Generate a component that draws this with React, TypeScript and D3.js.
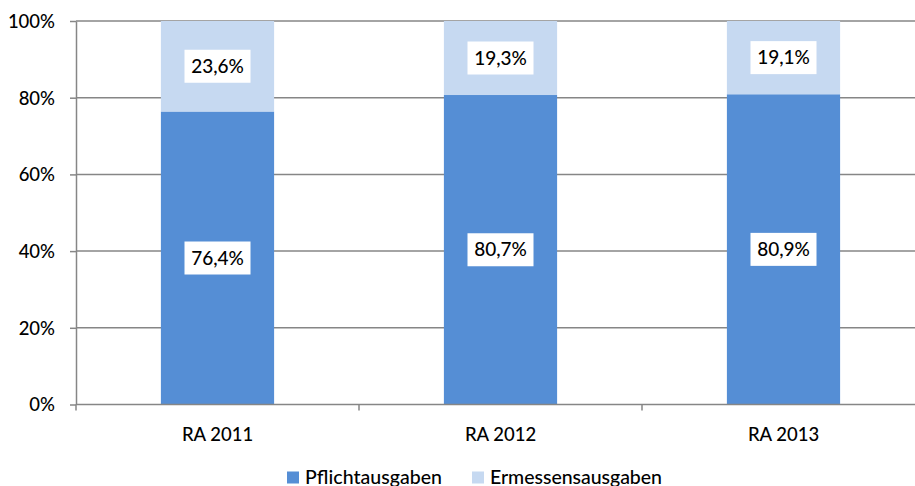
import React, { useEffect, useRef } from "react";
import * as d3 from "d3";

// data
const categories = ["RA 2011", "RA 2012", "RA 2013"];
const pflicht = [76.4, 80.7, 80.9];
const ermessen = [23.6, 19.3, 19.1];
const seriesNames = ["Pflichtausgaben", "Ermessensausgaben"];
const seriesColors = ["#558ED5", "#C6D9F1"];
const yTicks = [0, 20, 40, 60, 80, 100];

const W = 915;
const H = 486;
const FONT = "Lato, 'Open Sans', sans-serif";

export default function App() {
  const ref = useRef<SVGSVGElement>(null);

  useEffect(() => {
    const svg = d3.select(ref.current);
    svg.selectAll("*").remove();

    const left = 76, top = 21, bottom = 404.5, right = 925;

    const x = d3.scaleBand().domain(categories).range([left, right]).paddingInner(0).paddingOuter(0);
    const y = d3.scaleLinear().domain([0, 100]).range([bottom, top]);
    const barW = x.bandwidth() * 0.4;

    // gridlines
    svg.append("g").selectAll("line").data(yTicks.slice(1)).join("line")
      .attr("x1", left).attr("x2", W)
      .attr("y1", d => y(d)).attr("y2", d => y(d))
      .attr("stroke", "#868686").attr("stroke-width", 1.5);

    // bars
    const rows = categories.map((c, i) => ({ c, vals: [pflicht[i], ermessen[i]] }));
    rows.forEach(r => {
      let base = 0;
      r.vals.forEach((v, k) => {
        svg.append("rect")
          .attr("x", x(r.c)! + (x.bandwidth() - barW) / 2)
          .attr("width", barW)
          .attr("y", y(base + v))
          .attr("height", y(base) - y(base + v))
          .attr("fill", seriesColors[k]);
        const cy = y(base + v / 2);
        const cx = x(r.c)! + x.bandwidth() / 2;
        svg.append("rect")
          .attr("x", cx - 33).attr("y", cy - 16.5)
          .attr("width", 66).attr("height", 33)
          .attr("fill", "#fff");
        svg.append("text")
          .attr("x", cx).attr("y", cy + 6.5)
          .attr("text-anchor", "middle")
          .attr("font-family", FONT).attr("font-size", 19).attr("font-weight", 500)
          .attr("fill", "#000")
          .text(v.toFixed(1).replace(".", ",") + "%");
        base += v;
      });
    });

    // y axis
    const yAxis = svg.append("g").attr("transform", `translate(${left},0)`)
      .call(d3.axisLeft(y).tickValues(yTicks).tickSize(6).tickSizeOuter(0).tickFormat(d => `${d}%`));
    yAxis.select(".domain").attr("stroke", "#868686").attr("stroke-width", 1.5);
    yAxis.selectAll(".tick line").attr("stroke", "#868686").attr("stroke-width", 1.5);
    yAxis.selectAll(".tick text")
      .attr("x", -21).attr("dy", "0.35em")
      .attr("font-family", FONT).attr("font-size", 18.5).attr("font-weight", 500).attr("fill", "#000");

    // x axis
    const xAxis = svg.append("g").attr("transform", `translate(0,${bottom})`);
    xAxis.append("line").attr("x1", left).attr("x2", W).attr("y1", 0).attr("y2", 0)
      .attr("stroke", "#868686").attr("stroke-width", 1.5);
    const bounds = categories.map(c => x(c)!).concat([x(categories[categories.length - 1])! + x.bandwidth()]);
    xAxis.selectAll(".xt").data(bounds).join("line")
      .attr("x1", d => d).attr("x2", d => d).attr("y1", 0).attr("y2", 6)
      .attr("stroke", "#868686").attr("stroke-width", 1.5);
    xAxis.selectAll("text").data(categories).join("text")
      .attr("x", d => x(d)! + x.bandwidth() / 2).attr("y", 36)
      .attr("text-anchor", "middle")
      .attr("font-family", FONT).attr("font-size", 18.5).attr("font-weight", 500).attr("fill", "#000")
      .text(d => d);

    // legend
    const legX = [287, 472];
    const lg = svg.append("g");
    seriesNames.forEach((n, i) => {
      lg.append("rect").attr("x", legX[i]).attr("y", 471.5).attr("width", 12).attr("height", 12)
        .attr("fill", seriesColors[i]);
      lg.append("text").attr("x", legX[i] + 18).attr("y", 483.5)
        .attr("font-family", FONT).attr("font-size", 19.5).attr("font-weight", 500).attr("fill", "#000")
        .attr("textLength", i === 0 ? 137 : 172)
        .text(n);
    });
  }, []);

  return (
    <svg ref={ref} width={W} height={H} style={{ position: "absolute", left: 0, top: 0, background: "#fff" }} />
  );
}
